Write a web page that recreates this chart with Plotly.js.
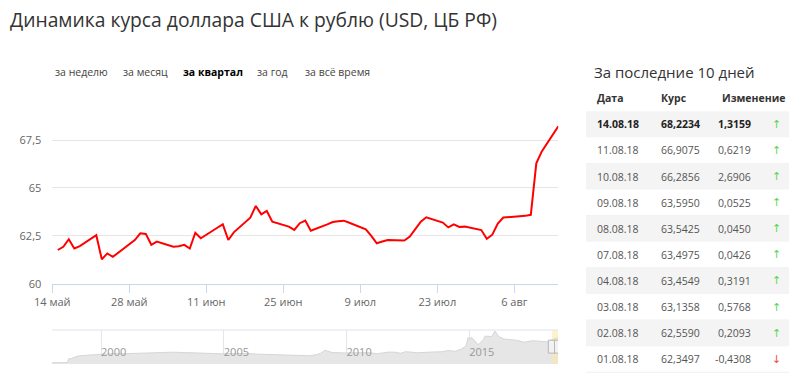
<!DOCTYPE html>
<html>
<head>
<meta charset="utf-8">
<script src="https://cdn.plot.ly/plotly-3.0.1.min.js"></script>
<style>
  html, body { margin: 0; padding: 0; background: #fff; }
  #chart { width: 800px; height: 380px; }
</style>
</head>
<body>
<div id="chart"></div>
<script>
// ---- main series: USD/RUB (CBR), last quarter ----
const dates = [
  '2018-05-15','2018-05-16','2018-05-17','2018-05-18','2018-05-19',
  '2018-05-22','2018-05-23','2018-05-24','2018-05-25','2018-05-26',
  '2018-05-29','2018-05-30','2018-05-31','2018-06-01','2018-06-02',
  '2018-06-05','2018-06-06','2018-06-07','2018-06-08','2018-06-09','2018-06-10',
  '2018-06-13','2018-06-14','2018-06-15','2018-06-16',
  '2018-06-19','2018-06-20','2018-06-21','2018-06-22','2018-06-23',
  '2018-06-26','2018-06-27','2018-06-28','2018-06-29','2018-06-30',
  '2018-07-03','2018-07-04','2018-07-05','2018-07-06','2018-07-07',
  '2018-07-10','2018-07-11','2018-07-12','2018-07-13','2018-07-14',
  '2018-07-17','2018-07-18','2018-07-19','2018-07-20','2018-07-21',
  '2018-07-24','2018-07-25','2018-07-26','2018-07-27','2018-07-28',
  '2018-07-31','2018-08-01','2018-08-02','2018-08-03','2018-08-04',
  '2018-08-07','2018-08-08','2018-08-09','2018-08-10','2018-08-11',
  '2018-08-14'
];
const rates = [
  61.76, 61.93, 62.32, 61.84, 61.96,
  62.53, 61.27, 61.58, 61.40, 61.62,
  62.28, 62.63, 62.60, 62.03, 62.20,
  61.93, 61.96, 62.03, 61.84, 62.66, 62.37,
  62.92, 63.10, 62.28, 62.68,
  63.45, 64.06, 63.62, 63.80, 63.24,
  62.98, 62.81, 63.16, 63.30, 62.77,
  63.10, 63.22, 63.26, 63.29, 63.18,
  62.84, 62.50, 62.11, 62.20, 62.28,
  62.25, 62.46, 62.85, 63.24, 63.47,
  63.19, 62.94, 63.10, 62.96, 62.98,
  62.80, 62.3497, 62.5590, 63.1358, 63.4549,
  63.4975, 63.5425, 63.5950, 66.2856, 66.9075,
  68.2234
];

// ---- axis ticks ----
const xTickVals = ['2018-05-14','2018-05-28','2018-06-11','2018-06-25','2018-07-09','2018-07-23','2018-08-06'];
const xTickText = ['14 май','28 май','11 июн','25 июн','9 июл','23 июл','6 авг'];
const yTickVals = [60, 62.5, 65, 67.5];
const yTickText = ['60','62,5','65','67,5'];

// ---- navigator (whole history, approximate) ----
const navDates = [
  '1998-01-01','1998-08-15','1998-09-10','1998-10-15','1998-12-15','1999-02-01','1999-06-01','1999-12-01',
  '2000-06-01','2001-01-01','2001-12-01','2002-12-01','2003-06-01','2003-12-01','2004-06-01','2004-12-01',
  '2005-06-01','2005-12-01','2006-06-01','2006-12-01','2007-06-01','2007-12-01','2008-07-01','2008-10-15',
  '2008-12-15','2009-02-15','2009-06-01','2009-12-01','2010-06-01','2010-12-01','2011-04-01','2011-09-15',
  '2011-12-15','2012-03-15','2012-06-01','2012-12-01','2013-06-01','2013-12-01','2014-03-01','2014-06-01',
  '2014-09-01','2014-11-15','2014-12-16','2015-01-15','2015-02-01','2015-05-15','2015-08-01','2015-08-24',
  '2015-12-01','2016-01-21','2016-03-15','2016-06-01','2016-12-01','2017-04-01','2017-08-01','2017-12-01',
  '2018-03-01','2018-05-15','2018-08-14'
];
const navValues = [
  5.97, 6.3, 16.0, 16.0, 20.6, 22.6, 24.4, 27.0,
  28.2, 28.2, 30.0, 31.8, 30.9, 29.4, 29.0, 27.8,
  28.6, 28.8, 26.9, 26.3, 25.8, 24.5, 23.2, 26.0,
  29.4, 36.4, 31.0, 30.0, 31.0, 30.5, 28.0, 32.0,
  32.0, 29.3, 33.0, 30.4, 32.0, 33.0, 36.0, 34.0,
  39.0, 47.0, 67.8, 62.0, 69.0, 50.0, 63.0, 71.0,
  70.0, 83.6, 70.0, 64.0, 61.0, 56.0, 60.0, 58.0,
  57.0, 62.0, 68.2
];
const navTickVals = ['2000-01-01','2005-01-01','2010-01-01','2015-01-01'];
const navTickText = ['2000','2005','2010','2015'];

// ---- table: last 10 days ----
const tableHeader = ['Дата','Курс','Изменение'];
const tableDates = ['14.08.18','11.08.18','10.08.18','09.08.18','08.08.18','07.08.18','04.08.18','03.08.18','02.08.18','01.08.18'];
const tableRates = ['68,2234','66,9075','66,2856','63,5950','63,5425','63,4975','63,4549','63,1358','62,5590','62,3497'];
const tableChanges = ['1,3159','0,6219','2,6906','0,0525','0,0450','0,0426','0,3191','0,5768','0,2093','-0,4308'];

// ---- tabs ----
const tabLabels = ['за неделю','за месяц','за квартал','за год','за всё время'];
const activeTab = 2;

// ---------------------------------------------------------------
const W = 800, H = 380;
const px = x => x / W;
const py = y => 1 - y / H;
const FONT = 'Open Sans, sans-serif';

const annotations = [];
const shapes = [];

// title
annotations.push({
  text: 'Динамика курса доллара США к рублю (USD, ЦБ РФ)',
  x: px(9), y: py(20), xref: 'paper', yref: 'paper', xanchor: 'left', yanchor: 'middle',
  showarrow: false, borderpad: 0, font: {family: FONT, size: 19.3, color: '#333'}
});

// tabs
const tabX = [54, 122, 182, 256, 304];
tabLabels.forEach((t, i) => {
  annotations.push({
    text: i === activeTab ? '<b>' + t + '</b>' : t,
    x: px(tabX[i]), y: py(72), xref: 'paper', yref: 'paper', xanchor: 'left', yanchor: 'middle',
    showarrow: false, borderpad: 0,
    font: {family: FONT, size: 10.5, color: i === activeTab ? '#000' : '#444'}
  });
});

// table title
annotations.push({
  text: 'За последние 10 дней',
  x: px(593), y: py(72), xref: 'paper', yref: 'paper', xanchor: 'left', yanchor: 'middle',
  showarrow: false, borderpad: 0, font: {family: FONT, size: 15, color: '#333'}
});

// table header
const colX = [596, 660, 721];
tableHeader.forEach((h, i) => {
  annotations.push({
    text: '<b>' + h + '</b>', x: px(colX[i]), y: py(98), xref: 'paper', yref: 'paper',
    xanchor: 'left', yanchor: 'middle', showarrow: false, borderpad: 0,
    font: {family: FONT, size: 10.5, color: '#333'}
  });
});

// table rows
const rowY0 = 124.3, rowH = 26.1;
tableDates.forEach((d, i) => {
  const yc = rowY0 + i * rowH;
  if (i % 2 === 0) {
    shapes.push({type: 'rect', xref: 'paper', yref: 'paper', layer: 'below',
      x0: px(586), x1: px(789), y0: py(yc - rowH / 2), y1: py(yc + rowH / 2),
      fillcolor: '#f4f4f4', line: {width: 0}});
  } else {
    shapes.push({type: 'line', xref: 'paper', yref: 'paper', layer: 'below',
      x0: px(586), x1: px(789), y0: py(yc + rowH / 2), y1: py(yc + rowH / 2),
      line: {color: '#f0f0f0', width: 1}});
  }
  const bold = i === 0;
  const wrap = s => bold ? '<b>' + s + '</b>' : s;
  const col = bold ? '#222' : '#555';
  const f = {family: FONT, size: 10.5, color: col};
  annotations.push({text: wrap(d), x: px(596), y: py(yc), xref: 'paper', yref: 'paper',
    xanchor: 'left', yanchor: 'middle', showarrow: false, borderpad: 0, font: f});
  annotations.push({text: wrap(tableRates[i]), x: px(660), y: py(yc), xref: 'paper', yref: 'paper',
    xanchor: 'left', yanchor: 'middle', showarrow: false, borderpad: 0, font: f});
  annotations.push({text: wrap(tableChanges[i]), x: px(752), y: py(yc), xref: 'paper', yref: 'paper',
    xanchor: 'right', yanchor: 'middle', showarrow: false, borderpad: 0, font: f});
  const up = !tableChanges[i].startsWith('-');
  annotations.push({text: up ? '↑' : '↓', x: px(776), y: py(yc), xref: 'paper', yref: 'paper',
    xanchor: 'center', yanchor: 'middle', showarrow: false, borderpad: 0,
    font: {family: 'DejaVu Sans, sans-serif', size: 11, color: up ? '#55d655' : '#f24a4a'}});
});

// navigator decorations
shapes.push({type: 'line', xref: 'paper', yref: 'paper', x0: px(52), x1: px(558), y0: py(330), y1: py(330),
  line: {color: '#dde3ee', width: 1}});
shapes.push({type: 'rect', xref: 'x2', yref: 'y2 domain', x0: dates[0], x1: dates[dates.length - 1],
  y0: 0, y1: 1, fillcolor: 'rgba(250,232,170,0.55)', line: {width: 0}, layer: 'above'});
[ '2018-05-14', dates[dates.length - 1] ].forEach(a => {
  shapes.push({type: 'rect', xref: 'x2', yref: 'y2 domain', xsizemode: 'pixel', xanchor: a,
    x0: -3.5, x1: 3.5, y0: 0.32, y1: 0.7, fillcolor: '#f2f2f2', line: {color: '#b8b8b8', width: 1}, layer: 'above'});
});

const traces = [
  {
    type: 'scatter', mode: 'lines', x: dates, y: rates, xaxis: 'x', yaxis: 'y',
    line: {color: '#ff0000', width: 2}, hoverinfo: 'x+y'
  },
  {
    type: 'scatter', mode: 'lines', x: navDates, y: navValues, xaxis: 'x2', yaxis: 'y2',
    fill: 'tozeroy', fillcolor: '#e6e6e6', line: {color: '#d6d6d6', width: 1}, hoverinfo: 'skip'
  }
];

const layout = {
  width: W, height: H,
  margin: {l: 0, r: 0, t: 0, b: 0},
  paper_bgcolor: '#fff', plot_bgcolor: '#fff',
  showlegend: false,
  separators: ', ',
  font: {family: FONT, size: 11, color: '#666'},
  xaxis: {
    type: 'date', domain: [px(52.3), px(558.3)], anchor: 'y',
    range: ['2018-05-14', '2018-08-14'],
    tickvals: xTickVals, ticktext: xTickText,
    ticks: 'outside', ticklen: 8, tickcolor: '#ccd6eb', tickwidth: 1,
    showline: true, linecolor: '#ccd6eb', linewidth: 1,
    showgrid: false, zeroline: false,
    tickfont: {family: FONT, size: 11, color: '#666'}, fixedrange: true
  },
  yaxis: {
    domain: [py(283.7), py(119)], anchor: 'x',
    range: [60, 68.6],
    tickvals: yTickVals, ticktext: yTickText,
    showgrid: true, gridcolor: '#e6e6e6', gridwidth: 1,
    zeroline: false, showline: false, ticks: '',
    ticklabelstandoff: 10,
    tickfont: {family: FONT, size: 11, color: '#666'}, fixedrange: true
  },
  xaxis2: {
    type: 'date', domain: [px(52), px(558)], anchor: 'y2',
    range: ['1998-01-01', '2018-08-14'],
    tickvals: navTickVals, ticktext: navTickText,
    ticklabelposition: 'inside right', ticks: '',
    showgrid: true, gridcolor: '#e6e6e6', gridwidth: 1,
    showline: false, zeroline: false,
    tickfont: {family: FONT, size: 11, color: '#999'}, fixedrange: true
  },
  yaxis2: {
    domain: [py(364), py(330)], anchor: 'x2',
    range: [3, 86], showgrid: false, zeroline: false, showticklabels: false,
    showline: false, ticks: '', fixedrange: true
  },
  annotations: annotations,
  shapes: shapes
};

Plotly.newPlot('chart', traces, layout, {displayModeBar: false, staticPlot: true});
</script>
</body>
</html>
